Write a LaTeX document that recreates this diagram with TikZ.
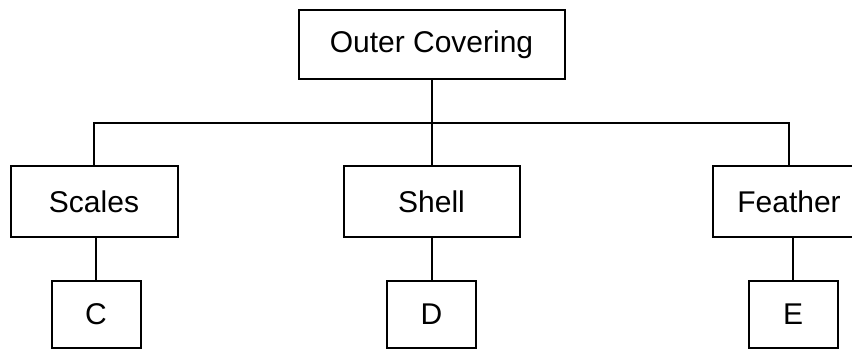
\documentclass[tikz,border=0pt]{standalone}
\usepackage{fontspec}
\setmainfont{Liberation Sans}
\usetikzlibrary{positioning}

\begin{document}
\begin{tikzpicture}[
      x=1pt, y=1pt,
      node distance = 100pt,
      line width=2pt
    ]

    \tikzstyle{box} = [
        rectangle,
        draw,
        inner sep=0pt,
        text centered,
        minimum height=71pt,
        font=\fontsize{30}{36}\selectfont
    ]

    \tikzstyle{leaf} = [
        box,
        minimum width=89pt,
        minimum height=67pt
    ]

    \useasboundingbox (0,0) rectangle (852,351);
    \clip (0,0) rectangle (852,351);

    \node [box, minimum width=266pt, minimum height=69pt] at (431.5,306.5) (outer) {Outer Covering};
    \node [box, minimum width=176pt, below of=outer, node distance=157.5pt] (shell) {Shell};
    \node [box, minimum width=167pt, left of=shell, node distance=337.5pt] (scales) {Scales};
    \node [box, minimum width=152pt, right of=shell, node distance=357.5pt] (feather) {Feather};

    \node [leaf, below of=scales, node distance=112.5pt, xshift=2pt] (c) {C};
    \node [leaf, below of=shell, node distance=112.5pt] (d) {D};
    \node [leaf, below of=feather, node distance=112.5pt, xshift=4pt] (e) {E};

    \coordinate (bar) at (0,228);

    \draw (outer) -- (shell);
    \draw (scales.north) -- (scales.north |- bar) -- (feather.north |- bar) -- (feather.north);

    \draw (scales.south -| c.north) -- (c);
    \draw (shell.south -| d.north) -- (d);
    \draw (feather.south -| e.north) -- (e);

    \end{tikzpicture}
\end{document}
